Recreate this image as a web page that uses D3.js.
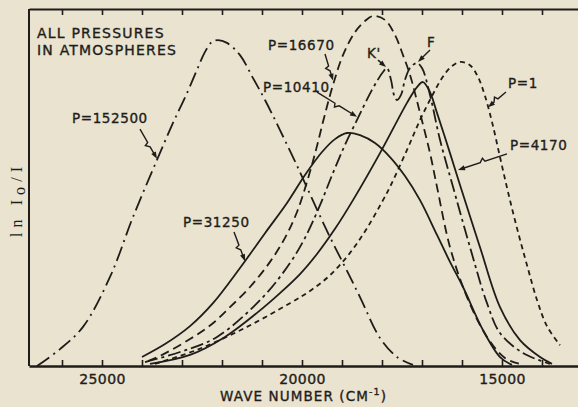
<!DOCTYPE html>
<html>
<head>
<meta charset="utf-8">
<script src="https://cdn.jsdelivr.net/npm/d3@7"></script>
<style>
  body { margin: 0; background: #e9e3cf; }
  svg { display: block; }
  text { font-family: 'DejaVu Sans', sans-serif; fill: #1f1d1a; }
</style>
</head>
<body>
<svg id="graph"></svg>
<script>
// wave number ticks (cm-1) and which of them get a label
let waveTicks = d3.range(26000, 13500, -1000)
let tickLabels = [25000, 20000, 15000]

// curves: [wave number, ln I0/I (arbitrary units)]
let p152500 = [[26625,0],[26050,0.47],[25475,1.09],[24800,2.48],[24225,4.15],[23625,5.74],[23250,6.71],
  [22875,7.60],[22625,8.25],[22425,8.75],[22250,9.03],[22100,9.08],[21875,9.00],[21550,8.66],[21225,8.02],
  [20925,7.41],[20550,6.57],[20050,5.40],[19675,4.48],[19300,3.59],[18925,2.76],[18550,1.92],[18050,0.78],
  [17625,0.25],[17225,0.03]]
let p31250 = [[24000,0.25],[23425,0.61],[22800,1.11],[22225,1.75],[21550,2.73],[20925,3.70],[20375,4.54],
  [19925,5.32],[19500,5.96],[19175,6.32],[18875,6.49],[18550,6.43],[18175,6.21],[17800,5.82],[17425,5.29],
  [17050,4.62],[16625,3.65],[16300,2.90],[15975,2.20],[15475,1.00],[15050,0.25],[14750,0.03]]
let p16670 = [[23850,0.14],[23550,0.28],[22800,0.75],[22250,1.17],[21800,1.64],[21300,2.20],[20800,2.90],
  [20425,3.57],[20125,4.29],[19875,5.13],[19650,6.02],[19450,6.91],[19225,7.83],[18975,8.66],[18675,9.30],
  [18425,9.61],[18225,9.75],[17925,9.64],[17675,9.22],[17475,8.66],[17300,8.11],[17050,7.05],[16800,5.93],
  [16625,4.99],[16300,3.31],[15875,1.92],[15375,0.81],[14925,0.22],[14550,0.06]]
let p10410 = [[23925,0.11],[23050,0.39],[22125,0.81],[20975,1.92],[20300,2.87],[19925,3.57],[19550,4.48],
  [19225,5.38],[18925,6.16],[18600,6.91],[18250,7.69],[17975,8.19],[17875,8.30],[17775,7.97],[17700,7.55],
  [17625,7.41],[17525,7.55],[17425,7.97],[17300,8.30],[17125,8.44],[17000,8.30],[16800,7.55],[16550,6.30],
  [16225,4.99],[15800,3.31],[15375,1.75],[15050,0.92],[14475,0.36],[13800,0.06]]
let p4170 = [[23800,0.06],[22800,0.31],[21925,0.81],[21125,1.48],[20550,2.03],[20050,2.56],[19625,3.12],
  [19175,3.82],[18725,4.62],[18050,5.93],[17375,7.33],[17125,7.77],[16975,7.91],[16800,7.63],[16625,7.05],
  [16300,5.93],[16050,5.04],[15550,3.31],[15050,1.64],[14550,0.72],[14050,0.25],[13750,0.06]]
let p1 = [[23675,0.06],[22625,0.45],[21375,1.09],[20300,1.75],[19800,2.09],[19300,2.53],[18800,3.15],
  [18375,3.84],[17975,4.62],[17800,4.99],[17375,6.02],[17050,6.85],[16750,7.52],[16500,8.02],[16275,8.33],
  [16050,8.47],[15800,8.38],[15600,8.05],[15425,7.52],[15250,6.80],[15050,5.82],[14850,4.85],[14625,3.84],
  [14375,2.81],[14125,1.84],[13875,1.11],[13550,0.58]]

// labels with their leader arrows: text spot, arrow start, arrow tip (data coords)
let notes = [
  {text: 'P=152500', at: [25750,6.77], from: [24050,6.60], to: [23625,5.77]},
  {text: 'P=31250', at: [22975,3.87], from: [21700,3.73], to: [21425,2.92]},
  {text: 'P=16670', at: [20850,8.80], from: [19425,8.69], to: [19225,7.95]},
  {text: 'P=10410', at: [20975,7.63], from: [19625,7.63], to: [18625,6.94]},
  {text: "K'", at: [18375,8.58], from: [18100,8.52], to: [17900,8.33]},
  {text: 'F', at: [16875,8.89], from: [16800,8.80], to: [17100,8.47]},
  {text: 'P=1', at: [14850,7.74], from: [14900,7.63], to: [15350,7.21]},
  {text: 'P=4170', at: [14800,6.02], from: [14875,5.91], to: [16100,5.46]}
]

let ink = '#1f1d1a'
let series = [
  {points: p152500, dash: '15,5,2,5'},
  {points: p31250, dash: null},
  {points: p16670, dash: '9,5'},
  {points: p10410, dash: '13,4,3,4'},
  {points: p4170, dash: null},
  {points: p1, dash: '5,4'}
]

function drawGraph() {
    let fullWidth = 578, fullHeight = 407
    let left = 29, top = 9, bottom = 366

    let svg = d3.select('svg#graph')
                .attr('width', fullWidth)
                .attr('height', fullHeight)

    svg.append('rect')
       .attr('width', fullWidth)
       .attr('height', fullHeight)
       .attr('fill', '#e9e3cf')

    let x = d3.scaleLinear().domain([26825, 13000]).range([left, 582])
    let y = d3.scaleLinear().domain([0, 10]).range([bottom, 7])

    // frame: left edge and top edge
    svg.append('line')
       .attr('x1', left).attr('x2', left)
       .attr('y1', top).attr('y2', bottom)
       .attr('stroke', ink).attr('stroke-width', 2)

    let topAxis = svg.append('g')
        .attr('transform', 'translate(0,' + top + ')')
        .call(d3.axisTop(x).tickValues(waveTicks).tickSizeInner(-6).tickSizeOuter(0).tickFormat(''))
    topAxis.select('.domain').attr('stroke', ink).attr('stroke-width', 2)
    topAxis.selectAll('.tick line').attr('stroke', ink).attr('stroke-width', 1.6)

    let bottomAxis = svg.append('g')
        .attr('transform', 'translate(0,' + bottom + ')')
        .call(d3.axisBottom(x).tickValues(waveTicks).tickSizeInner(-6).tickSizeOuter(0).tickPadding(8)
                .tickFormat(d => tickLabels.includes(d) ? d : ''))
    bottomAxis.select('.domain').attr('stroke', ink).attr('stroke-width', 2.5)
    bottomAxis.selectAll('.tick line').attr('stroke', ink).attr('stroke-width', 1.6)
    bottomAxis.selectAll('.tick text')
        .attr('fill', ink)
        .style('font-family', "'DejaVu Sans', sans-serif")
        .style('font-size', '14px')
        .style('letter-spacing', '0.4px')
        .attr('stroke', ink).attr('stroke-width', 0.35)

    // curves
    let line = d3.line()
        .x(d => x(d[0]))
        .y(d => y(d[1]))
        .curve(d3.curveCatmullRom.alpha(0.5))

    svg.append('g')
       .selectAll('path')
       .data(series)
       .join('path')
       .attr('d', d => line(d.points))
       .attr('fill', 'none')
       .attr('stroke', ink)
       .attr('stroke-width', 1.8)
       .attr('stroke-dasharray', d => d.dash)

    // labels and zigzag leaders
    let notesG = svg.append('g')
    notes.forEach(n => {
        let x0 = x(n.from[0]), y0 = y(n.from[1])
        let x1 = x(n.to[0]), y1 = y(n.to[1])
        let len = Math.hypot(x1 - x0, y1 - y0)
        let ux = (x1 - x0) / len, uy = (y1 - y0) / len
        let px = -uy, py = ux
        let p = d3.path()
        p.moveTo(x0, y0)
        if (len > 20) {
            let mx = x0 + (x1 - x0) * 0.45, my = y0 + (y1 - y0) * 0.45
            p.lineTo(mx, my)
            p.lineTo(mx + px * 3.5 + ux * 1.5, my + py * 3.5 + uy * 1.5)
            p.lineTo(mx + ux * 5, my + uy * 5)
        }
        p.lineTo(x1 - ux * 4, y1 - uy * 4)
        notesG.append('path')
              .attr('d', p.toString())
              .attr('fill', 'none')
              .attr('stroke', ink)
              .attr('stroke-width', 1.4)
        notesG.append('path')
              .attr('d', 'M' + x1 + ',' + y1 +
                         'L' + (x1 - ux * 7 + px * 2.6) + ',' + (y1 - uy * 7 + py * 2.6) +
                         'L' + (x1 - ux * 7 - px * 2.6) + ',' + (y1 - uy * 7 - py * 2.6) + 'Z')
              .attr('fill', ink)
        notesG.append('text')
              .attr('x', x(n.at[0]))
              .attr('y', y(n.at[1]))
              .style('font-size', '13.5px')
              .style('letter-spacing', '0.6px')
              .attr('stroke', ink).attr('stroke-width', 0.35)
              .text(n.text)
    })

    // corner note
    let corner = svg.append('text')
        .attr('x', 37)
        .style('font-size', '14px')
        .style('letter-spacing', '1.2px')
        .attr('stroke', ink).attr('stroke-width', 0.35)
    corner.append('tspan').attr('x', 37).attr('y', 38).text('ALL PRESSURES')
    corner.append('tspan').attr('x', 37).attr('y', 55).text('IN ATMOSPHERES')

    // axis titles
    let xTitle = svg.append('text')
        .attr('x', 220)
        .attr('y', 401)
        .style('font-size', '13.5px')
        .style('letter-spacing', '1.1px')
        .attr('stroke', ink).attr('stroke-width', 0.35)
    xTitle.append('tspan').text('WAVE NUMBER (CM')
    xTitle.append('tspan').attr('dy', -6).style('font-size', '9.5px').text('-1')
    xTitle.append('tspan').attr('dy', 6).text(')')

    let yTitle = svg.append('text')
        .attr('transform', 'translate(22,237) rotate(-90)')
        .style('font-family', "'Liberation Serif', serif")
        .style('font-size', '16px')
        .attr('textLength', 70)
    yTitle.append('tspan').text('ln I')
    yTitle.append('tspan').attr('dy', 3).text('o')
    yTitle.append('tspan').attr('dy', -3).text('/I')
}

drawGraph()
</script>
</body>
</html>
